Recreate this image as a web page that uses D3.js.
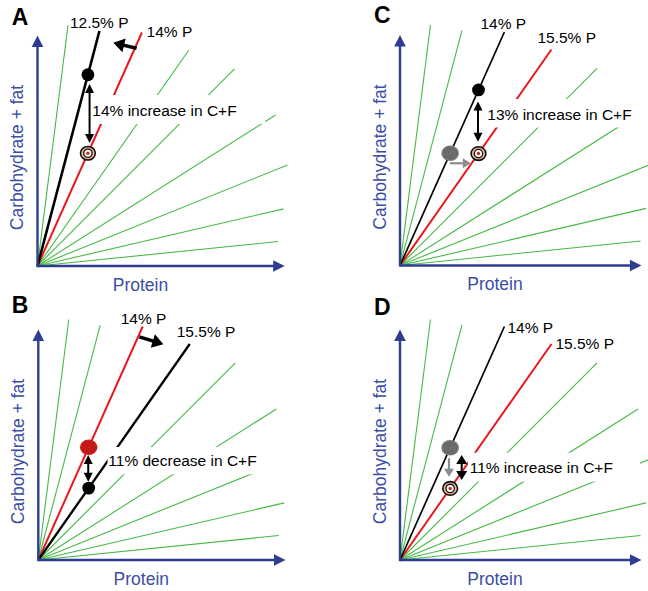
<!DOCTYPE html>
<html>
<head>
<meta charset="utf-8">
<script src="https://cdn.jsdelivr.net/npm/d3@7"></script>
<style>
  body { margin: 0; background: #fff; }
  svg { display: block; }
  text { font-family: Arial, "Liberation Sans", sans-serif; }
</style>
</head>
<body>
<div class="main"></div>
<script>
// fan of constant-%protein lines, end points as (protein, carbohydrate + fat)
const rayProtein = [12.7, 25.8, 43.5, 63.1, 82.1, 99.2, 104.2, 102.5, 100.2];
const rayCF      = [100.2, 97.9, 97.3, 90.0, 82.1, 62.9, 42.1, 23.8, 10.2];

const panels = ["A", "B", "C", "D"];
const blackRay = [1, 3, 2, 2];
const redRay = [2, 2, 3, 3];
const blackLabels = ["12.5% P", "15.5% P", "14% P", "14% P"];
const redLabels = ["14% P", "14% P", "15.5% P", "15.5% P"];
const changeLabels = ["14% increase in C+F", "11% decrease in C+F", "13% increase in C+F", "11% increase in C+F"];

// diets drawn on the lines
const markerPanel = ["A", "A", "B", "B", "C", "C", "C", "D", "D"];
const markerKind = ["dot", "target", "red", "dot", "grey", "target", "dot", "grey", "target"];
const markerRay = [1, 2, 2, 3, 2, 3, 2, 2, 3];
const markerProtein = [21, 21, 21, 21, 20.9, 32.7, 32.7, 20.9, 20.9];

// vertical double arrows (C+F change)
const dblX = [21.7, 20.8, 32.5, 25.7];
const dblFrom = [75.8, 43.8, 68.3, 43.8];
const dblTo = [51.3, 32.6, 51.6, 33.3];

// shift arrows: panel, start, end
const shiftPanel = ["A", "B", "C", "D"];
const shiftKind = ["thick", "thick", "grey", "grey"];
const shiftX0 = [41.3, 42.1, 20.8, 20.4];
const shiftY0 = [90.7, 93.0, 42.6, 42.4];
const shiftX1 = [31.6, 52.1, 29.5, 20.4];
const shiftY1 = [93.0, 89.9, 42.6, 34.7];

const w = 648, h = 591;
const axisBlue = "#2e3d92";
const labelBlue = "#3a4ea3";
const green = "#46b946";
const red = "#e8191c";

const layout = {
  A: { ox: 37.5, oy: 266, xLen: 103, blackW: 2.6, letter: [11.7, 25], protX: 103,
       box: [90, 95, 265, 124], note: [92.3, 115.5],
       blackOff: [-29.5, -3], redOff: [4.7, 5] },
  B: { ox: 38.3, oy: 560, xLen: 103, blackW: 2.3, letter: [11.7, 313], protX: 103,
       box: [107.5, 447, 295, 474.3], note: [108.3, 465.5],
       blackOff: [-13, -7.5], redOff: [-22, -2] },
  C: { ox: 400, oy: 265.5, xLen: 100.6, blackW: 1.7, letter: [374, 23], protX: 95,
       box: [485, 99, 648, 127.5], note: [487.3, 120],
       blackOff: [-24, -2.5], redOff: [-14, -7] },
  D: { ox: 400, oy: 560, xLen: 100.6, blackW: 1.7, letter: [374, 315], protX: 95,
       box: [468, 452.7, 640, 481.7], note: [469.7, 472.5],
       blackOff: [3, 6.5], redOff: [4, 5] }
};

const svg = d3.select(".main")
  .append("svg")
  .attr("width", w)
  .attr("height", h);

function head(g, tx, ty, ux, uy, len, half, color) {
  // triangle with tip at (tx,ty) pointing along unit (ux,uy)
  const bx = tx - ux * len, by = ty - uy * len;
  const px = -uy, py = ux;
  g.append("path")
    .attr("d", "M" + tx + "," + ty +
      "L" + (bx + px * half) + "," + (by + py * half) +
      "L" + (bx - px * half) + "," + (by - py * half) + "Z")
    .attr("fill", color);
}

function arrow(g, x0, y0, x1, y1, width, len, half, color, both) {
  const d = Math.hypot(x1 - x0, y1 - y0);
  const ux = (x1 - x0) / d, uy = (y1 - y0) / d;
  const s = both ? len * 0.8 : 0;
  g.append("line")
    .attr("x1", x0 + ux * s).attr("y1", y0 + uy * s)
    .attr("x2", x1 - ux * len * 0.8).attr("y2", y1 - uy * len * 0.8)
    .attr("stroke", color).attr("stroke-width", width);
  head(g, x1, y1, ux, uy, len, half, color);
  if (both) head(g, x0, y0, -ux, -uy, len, half, color);
}

panels.forEach((p, i) => {
  const L = layout[p];
  const g = svg.append("g");
  const xScale = d3.scaleLinear().domain([0, 100]).range([L.ox, L.ox + 240]);
  const yScale = d3.scaleLinear().domain([0, 100]).range([L.oy, L.oy - 240]);

  // green fan
  const rays = rayProtein.map((v, k) => ({ p: v, cf: rayCF[k], k: k }));
  g.selectAll("line.ray")
    .data(rays.filter((r) => r.k != blackRay[i] && r.k != redRay[i]))
    .enter()
    .append("line")
    .attr("class", "ray")
    .attr("x1", xScale(0)).attr("y1", yScale(0))
    .attr("x2", (d) => xScale(d.p)).attr("y2", (d) => yScale(d.cf))
    .attr("stroke", green)
    .attr("stroke-width", 1.1);

  g.append("line")
    .attr("x1", xScale(0)).attr("y1", yScale(0))
    .attr("x2", xScale(rayProtein[redRay[i]])).attr("y2", yScale(rayCF[redRay[i]]))
    .attr("stroke", red).attr("stroke-width", 2);

  g.append("line")
    .attr("x1", xScale(0)).attr("y1", yScale(0))
    .attr("x2", xScale(rayProtein[blackRay[i]])).attr("y2", yScale(rayCF[blackRay[i]]))
    .attr("stroke", "#000").attr("stroke-width", L.blackW);

  // white box behind the change label
  g.append("rect")
    .attr("x", L.box[0]).attr("y", L.box[1])
    .attr("width", L.box[2] - L.box[0]).attr("height", L.box[3] - L.box[1])
    .attr("fill", "#fff");

  g.append("text")
    .attr("x", L.note[0]).attr("y", L.note[1])
    .attr("font-size", "15.5px")
    .text(changeLabels[i]);

  // line labels
  g.append("text")
    .attr("x", xScale(rayProtein[blackRay[i]]) + L.blackOff[0])
    .attr("y", yScale(rayCF[blackRay[i]]) + L.blackOff[1])
    .attr("font-size", "15.5px")
    .text(blackLabels[i]);
  g.append("text")
    .attr("x", xScale(rayProtein[redRay[i]]) + L.redOff[0])
    .attr("y", yScale(rayCF[redRay[i]]) + L.redOff[1])
    .attr("font-size", "15.5px")
    .text(redLabels[i]);

  // axes
  const x0 = xScale(0), y0 = yScale(0);
  const xEnd = xScale(L.xLen), yEnd = yScale(96);
  g.append("line")
    .attr("x1", x0).attr("y1", y0).attr("x2", xEnd - 8).attr("y2", y0)
    .attr("stroke", axisBlue).attr("stroke-width", 2.4);
  g.append("line")
    .attr("x1", x0).attr("y1", y0 + 1.2).attr("x2", x0).attr("y2", yEnd + 8)
    .attr("stroke", axisBlue).attr("stroke-width", 2.4);
  head(g, xEnd, y0, 1, 0, 11.5, 5.8, axisBlue);
  head(g, x0, yEnd, 0, -1, 11.5, 5.8, axisBlue);

  g.append("text")
    .attr("x", x0 + L.protX)
    .attr("y", y0 + 24.5)
    .attr("font-size", "17.5px")
    .attr("fill", labelBlue)
    .style("text-anchor", "middle")
    .text("Protein");
  g.append("text")
    .attr("transform", "translate(" + (x0 - 14.5) + "," + (y0 - 108.5) + ") rotate(-90)")
    .attr("font-size", "17.5px")
    .attr("fill", labelBlue)
    .style("text-anchor", "middle")
    .text("Carbohydrate + fat");

  g.append("text")
    .attr("x", L.letter[0]).attr("y", L.letter[1])
    .attr("font-size", "23px")
    .attr("font-weight", "bold")
    .text(p);

  // arrows
  arrow(g, xScale(dblX[i]), yScale(dblFrom[i]), xScale(dblX[i]), yScale(dblTo[i]),
    2, 9, p == "D" ? 5.5 : 4.5, "#000", true);

  const si = shiftPanel.indexOf(p);
  if (shiftKind[si] == "thick") {
    arrow(g, xScale(shiftX0[si]), yScale(shiftY0[si]), xScale(shiftX1[si]), yScale(shiftY1[si]),
      3.5, 11, 7, "#000", false);
  } else {
    arrow(g, xScale(shiftX0[si]), yScale(shiftY0[si]), xScale(shiftX1[si]), yScale(shiftY1[si]),
      2.2, 8, 5, "#8c8c8c", false);
  }

  // diet markers
  markerPanel.forEach((mp, m) => {
    if (mp != p) return;
    const r = markerRay[m];
    const cx = xScale(markerProtein[m]);
    const cy = yScale(markerProtein[m] * rayCF[r] / rayProtein[r]);
    const kind = markerKind[m];
    if (kind == "dot") {
      g.append("circle").attr("cx", cx).attr("cy", cy).attr("r", 6.4).attr("fill", "#000");
    } else if (kind == "target") {
      g.append("ellipse").attr("cx", cx).attr("cy", cy).attr("rx", 7.4).attr("ry", 6.8)
        .attr("fill", "#f4b594").attr("stroke", "#111").attr("stroke-width", 1.6);
      g.append("circle").attr("cx", cx).attr("cy", cy).attr("r", 4.2)
        .attr("fill", "#fff").attr("stroke", "#111").attr("stroke-width", 1.3);
      g.append("circle").attr("cx", cx).attr("cy", cy).attr("r", 1.7).attr("fill", "#b8322a");
    } else {
      const fill = kind == "grey" ? "#777" : "#d42020";
      const ring = kind == "grey" ? "#555" : "#9e1010";
      g.append("ellipse").attr("cx", cx).attr("cy", cy).attr("rx", 8.8).attr("ry", 7.8)
        .attr("fill", fill);
      [6.3, 4.2, 2.1].forEach((rr) => {
        g.append("ellipse").attr("cx", cx).attr("cy", cy).attr("rx", rr).attr("ry", rr * 0.9)
          .attr("fill", "none").attr("stroke", ring).attr("stroke-width", 0.8);
      });
    }
  });
});
</script>
</body>
</html>
